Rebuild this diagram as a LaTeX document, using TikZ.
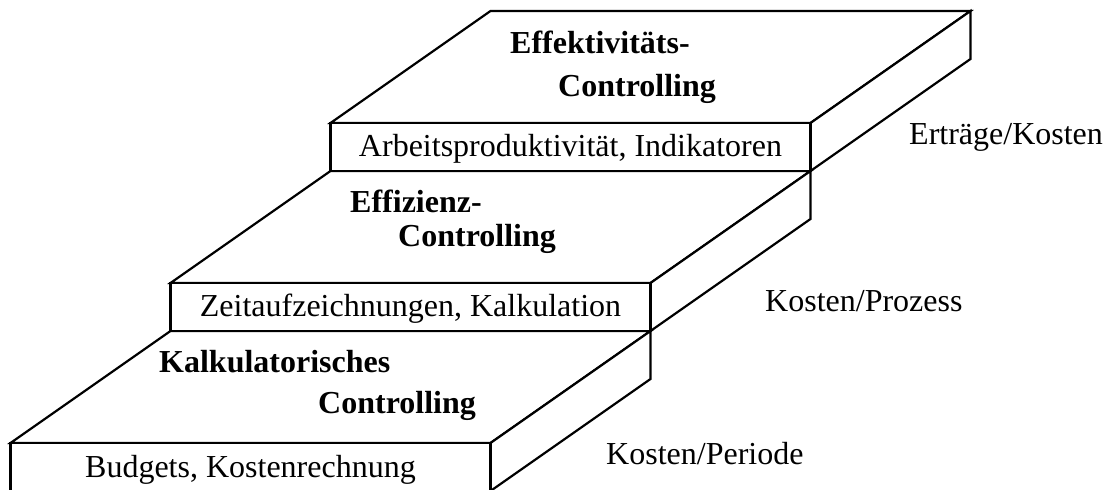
\documentclass[tikz,border=0pt]{standalone}
\usepackage{fontspec}
\setmainfont{Liberation Serif}
\begin{document}
\begin{tikzpicture}[x=1bp, y=-1bp,
  face/.style={draw=black, fill=white, line width=2.2bp, line join=miter},
  txt/.style={inner sep=0pt, font=\fontsize{32bp}{38bp}\selectfont},
  ttl/.style={txt, anchor=base west, font=\fontsize{32bp}{38bp}\selectfont\bfseries},
  facetxt/.style={txt, anchor=base},
  sidetxt/.style={txt, anchor=base west}]
\useasboundingbox (0,0) rectangle (1114,490);

% three stacked slabs: front face 480 x 48, depth offset (160,-112)
\foreach \x/\y/\n in {10.5/443/low, 170.5/283/mid, 330.5/123/high} {
  \draw[face] (\x,\y) -- ++(160,-112) -- ++(480,0) -- ++(-160,112) -- cycle;
  \draw[face] (\x+480,\y) -- ++(160,-112) -- ++(0,48) -- ++(-160,112) -- cycle;
  \draw[face] (\x,\y) rectangle ++(480,48);
  % baseline point for the text on the front face
  \coordinate (\n) at (\x+240,\y+34);
}

% level titles on the top faces
\node[ttl] (t3a) at (510,54)  {Effektivitäts-};
\node[ttl] (t3b) at (558,97)  {Controlling};
\node[ttl] (t2a) at (350,213) {Effizienz-};
\node[ttl] (t2b) at (398,247) {Controlling};
\node[ttl] (t1a) at (159,373) {Kalkulatorisches};
\node[ttl] (t1b) at (318,413) {Controlling};

% instruments on the front faces
\node[facetxt] (f3) at (high) {Arbeitsproduktivität, Indikatoren};
\node[facetxt] (f2) at (mid)  {Zeitaufzeichnungen, Kalkulation};
\node[facetxt] (f1) at (low)  {Budgets, Kostenrechnung};

% measures beside each level
\node[sidetxt] (s3) at (909,145) {Erträge/Kosten};
\node[sidetxt] (s2) at (765,312) {Kosten/Prozess};
\node[sidetxt] (s1) at (606,464) {Kosten/Periode};
\end{tikzpicture}
\end{document}
